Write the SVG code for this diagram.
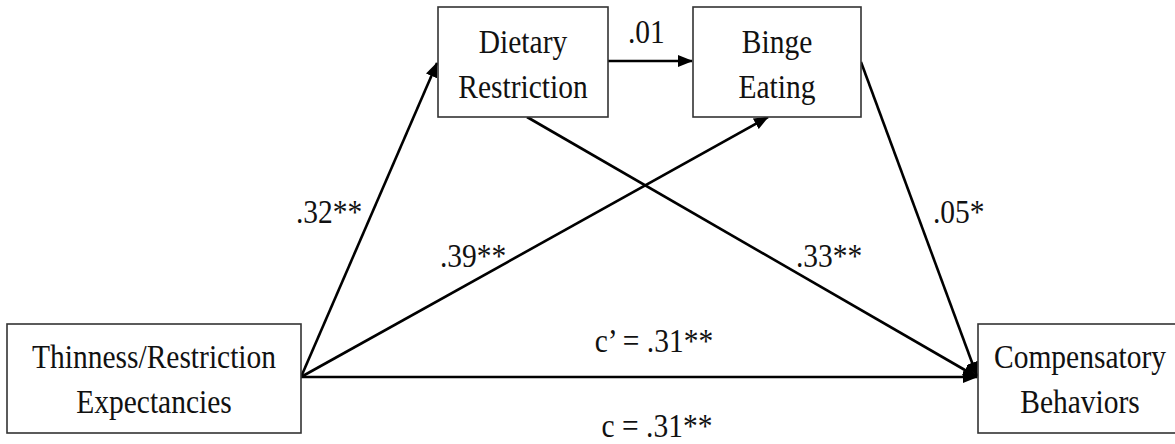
<svg xmlns="http://www.w3.org/2000/svg" width="1175" height="444" viewBox="0 0 1175 444">
<style>
.box{fill:#fff;stroke:#333;stroke-width:1.6}
.t{font-family:"Liberation Serif","Times New Roman",serif;font-size:29.5px;fill:#111;text-anchor:middle}
.l{font-family:"Liberation Serif","Times New Roman",serif;font-size:29.5px;fill:#111}
.c{stroke:#000;stroke-width:2.6;fill:none;marker-end:url(#ah)}
</style>
<defs>
<marker id="ah" markerUnits="userSpaceOnUse" markerWidth="16" markerHeight="12" refX="14" refY="6" orient="auto">
<path d="M0,0 L15,6 L0,12 z" fill="#000"/>
</marker>
</defs>
<rect width="1175" height="444" fill="#fff"/>
<g id="connectors">
<line class="c" x1="301" y1="377" x2="437" y2="63"/>
<line class="c" x1="301" y1="377" x2="768" y2="117"/>
<line class="c" x1="527" y1="117" x2="977" y2="377"/>
<line class="c" x1="861" y1="62" x2="977" y2="376"/>
<line class="c" x1="301" y1="377" x2="977" y2="377"/>
<line class="c" x1="608" y1="61" x2="692" y2="61"/>
</g>
<g id="labels">
<text class="l" transform="translate(628,43) scale(1,1.17)">.01</text>
<text class="l" transform="translate(296,223) scale(1,1.17)">.32**</text>
<text class="l" transform="translate(440,267) scale(1,1.17)">.39**</text>
<text class="l" transform="translate(796,267) scale(1,1.17)">.33**</text>
<text class="l" transform="translate(933,223) scale(1,1.17)">.05*</text>
<text class="t" transform="translate(654,352) scale(1,1.17)">c’ = .31**</text>
<text class="t" transform="translate(657,437) scale(1,1.17)">c = .31**</text>
</g>
<g id="node-thinness">
<rect class="box" x="7" y="324" width="294" height="109"/>
<text class="t" transform="translate(154,368) scale(1,1.17)">Thinness/Restriction</text>
<text class="t" transform="translate(154,413) scale(1,1.17)">Expectancies</text>
</g>
<g id="node-dietary">
<rect class="box" x="438" y="7" width="170" height="110"/>
<text class="t" transform="translate(523,53) scale(1,1.17)">Dietary</text>
<text class="t" transform="translate(523,98) scale(1,1.17)">Restriction</text>
</g>
<g id="node-binge">
<rect class="box" x="693" y="7" width="168" height="110"/>
<text class="t" transform="translate(777,53) scale(1,1.17)">Binge</text>
<text class="t" transform="translate(777,98) scale(1,1.17)">Eating</text>
</g>
<g id="node-compensatory">
<rect class="box" x="978" y="324" width="210" height="109"/>
<text class="t" transform="translate(1080,368) scale(1,1.17)">Compensatory</text>
<text class="t" transform="translate(1080,413) scale(1,1.17)">Behaviors</text>
</g>
</svg>
